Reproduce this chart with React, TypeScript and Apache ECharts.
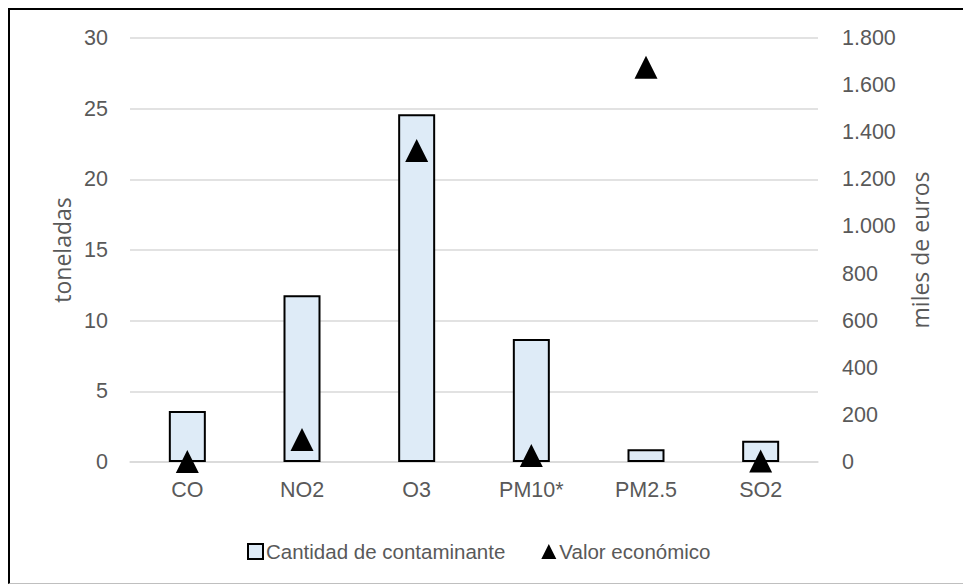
import React, { useEffect, useRef } from "react";
import * as echarts from "echarts";

const categories = ["CO", "NO2", "O3", "PM10*", "PM2.5", "SO2"];
const toneladas = [3.6, 11.8, 24.6, 8.7, 0.9, 1.5];
const valorEconomico = [2, 95, 1322, 28, 1676, 4];
const seriesNames = ["Cantidad de contaminante", "Valor económico"];

const TICK_FONT = "'Liberation Sans', Arial, sans-serif";
const TITLE_FONT = "'Open Sans', 'DejaVu Sans', sans-serif";
const GRAY = "#595959";

function fmtThousands(v: number): string {
  const s = Math.round(v).toString();
  return s.replace(/\B(?=(\d{3})+(?!\d))/g, ".");
}

export default function App() {
  const ref = useRef<HTMLDivElement>(null);
  useEffect(() => {
    if (!ref.current) return;
    const chart = echarts.init(ref.current, undefined, { renderer: "svg" });
    chart.setOption({
      animation: false,
      backgroundColor: "#ffffff",
      grid: { left: 130, right: 145, top: 38, bottom: 122 },
      legend: {
        left: 242,
        top: 536,
        itemWidth: 15,
        itemHeight: 15,
        itemGap: 36,
        textStyle: { fontFamily: TICK_FONT, fontSize: 20.5, color: GRAY, padding: [0, 0, 0, -2] },
        data: [
          { name: seriesNames[0], icon: "rect" },
          { name: seriesNames[1], icon: "triangle", itemStyle: { color: "#000", opacity: 1 } },
        ],
      },
      xAxis: {
        type: "category",
        data: categories,
        axisLine: { show: true, lineStyle: { color: "#d9d9d9", width: 1.5 } },
        axisTick: { show: false },
        axisLabel: { fontFamily: TICK_FONT, fontSize: 21.5, color: GRAY, margin: 17 },
      },
      yAxis: [
        {
          type: "value",
          min: 0,
          max: 30,
          interval: 5,
          name: "toneladas",
          nameLocation: "middle",
          nameGap: 51,
          nameRotate: 90,
          nameTextStyle: { fontFamily: TITLE_FONT, fontSize: 23, color: GRAY },
          axisLine: { show: false },
          axisTick: { show: false },
          axisLabel: { fontFamily: TICK_FONT, fontSize: 21.5, color: GRAY, margin: 22 },
          splitLine: { lineStyle: { color: "#d9d9d9", width: 1.5 } },
        },
        {
          type: "value",
          min: 0,
          max: 1800,
          interval: 200,
          name: "miles de euros",
          nameLocation: "middle",
          nameGap: 90,
          nameRotate: 90,
          nameTextStyle: { fontFamily: TITLE_FONT, fontSize: 23, color: GRAY },
          axisLine: { show: false },
          axisTick: { show: false },
          splitLine: { show: false },
          axisLabel: {
            fontFamily: TICK_FONT,
            fontSize: 21.5,
            color: GRAY,
            margin: 24,
            formatter: (v: number) => fmtThousands(v),
          },
        },
      ],
      series: [
        {
          name: seriesNames[0],
          type: "bar",
          yAxisIndex: 0,
          data: toneladas,
          barWidth: 37,
          itemStyle: { color: "#deebf7", borderColor: "#000000", borderWidth: 2 },
        },
        {
          name: seriesNames[1],
          type: "scatter",
          yAxisIndex: 1,
          data: valorEconomico,
          symbol: "triangle",
          symbolSize: [23, 23],
          itemStyle: { color: "#000000", opacity: 1 },
        },
      ],
    });
    return () => chart.dispose();
  }, []);
  return (
    <div style={{ position: "fixed", left: 0, top: 0, width: 963, height: 584, background: "#fff" }}>
      <div ref={ref} style={{ position: "absolute", left: 0, top: 0, width: 963, height: 584 }} />
      <div
        style={{
          position: "absolute",
          left: 8,
          top: 8,
          width: 960,
          height: 573,
          borderLeft: "2px solid #000",
          borderTop: "2px solid #000",
          borderBottom: "1px solid #bfbfbf",
          pointerEvents: "none",
        }}
      />
    </div>
  );
}
